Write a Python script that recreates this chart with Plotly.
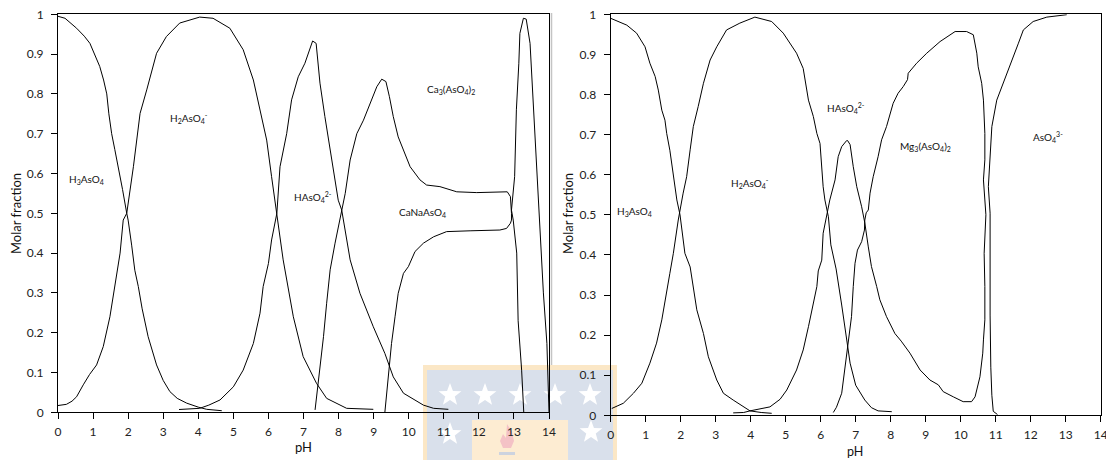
import plotly.graph_objects as go
import math

# ---------------- data: left panel (Ca system) ----------------
h3_l_x = [0, 0.2, 0.53, 0.75, 0.91, 1.05, 1.19, 1.3, 1.39, 1.45, 1.53, 1.62, 1.72, 1.84, 1.96, 2.0, 2.1, 2.19, 2.29, 2.4, 2.57, 2.7, 2.81, 3.0, 3.19, 3.4, 3.67, 4.0, 4.24, 4.67]
h3_l_y = [0.995, 0.99, 0.965, 0.945, 0.927, 0.9, 0.869, 0.835, 0.80, 0.75, 0.70, 0.66, 0.617, 0.56, 0.50, 0.483, 0.42, 0.357, 0.316, 0.26, 0.19, 0.15, 0.119, 0.08, 0.052, 0.035, 0.023, 0.013, 0.0075, 0.004]

h2_l_x = [0, 0.24, 0.4, 0.53, 0.72, 0.9, 1.1, 1.29, 1.48, 1.63, 1.77, 1.86, 1.96, 2.15, 2.34, 2.53, 2.81, 3.09, 3.47, 4.04, 4.42, 4.9, 5.28, 5.57, 5.81, 5.95, 6.09, 6.24, 6.42, 6.71, 6.99, 7.37, 7.66, 8.23, 8.99]
h2_l_y = [0.017, 0.02, 0.028, 0.039, 0.069, 0.095, 0.119, 0.165, 0.24, 0.324, 0.40, 0.483, 0.50, 0.617, 0.751, 0.81, 0.902, 0.944, 0.978, 0.993, 0.99, 0.965, 0.911, 0.835, 0.743, 0.684, 0.592, 0.50, 0.383, 0.24, 0.14, 0.073, 0.035, 0.01, 0.0075]

h1_l_x = [3.45, 4.04, 4.3, 4.62, 5.0, 5.28, 5.57, 5.76, 5.85, 6.0, 6.09, 6.24, 6.33, 6.52, 6.66, 6.85, 7.04, 7.19, 7.26, 7.36, 7.42, 7.47, 7.61, 7.76, 7.9, 7.99, 8.09, 8.33, 8.61, 8.99, 9.32, 9.56, 9.85, 10.42, 10.71, 11.13]
h1_l_y = [0.007, 0.01, 0.018, 0.031, 0.064, 0.106, 0.173, 0.249, 0.316, 0.374, 0.433, 0.50, 0.617, 0.70, 0.785, 0.843, 0.877, 0.918, 0.933, 0.927, 0.868, 0.827, 0.743, 0.659, 0.584, 0.533, 0.508, 0.383, 0.299, 0.215, 0.148, 0.089, 0.048, 0.018, 0.01, 0.0075]

ca3_l_x = [7.33, 7.47, 7.57, 7.66, 7.76, 7.9, 7.99, 8.19, 8.33, 8.52, 8.71, 8.9, 9.09, 9.23, 9.35, 9.45, 9.56, 9.7, 9.85, 10.04, 10.32, 10.51, 10.89, 11.37, 11.94, 12.7, 12.81, 12.9, 12.93, 12.93]
ca3_l_y = [0.006, 0.106, 0.19, 0.274, 0.358, 0.425, 0.466, 0.55, 0.634, 0.70, 0.734, 0.776, 0.818, 0.837, 0.831, 0.793, 0.743, 0.692, 0.659, 0.617, 0.584, 0.571, 0.567, 0.554, 0.552, 0.554, 0.554, 0.542, 0.517, 0.5]

cana_l_x = [9.32, 9.42, 9.51, 9.61, 9.7, 9.85, 9.99, 10.18, 10.42, 10.71, 11.08, 11.75, 12.6, 12.79, 12.9, 12.93, 12.93]
cana_l_y = [0.0, 0.089, 0.173, 0.24, 0.299, 0.349, 0.366, 0.404, 0.425, 0.441, 0.454, 0.456, 0.458, 0.462, 0.475, 0.483, 0.5]

aso4_l_x = [13.28, 13.22, 13.12, 13.08, 12.98, 12.93, 13.02, 13.07, 13.14, 13.17, 13.27, 13.35, 13.46, 13.56, 13.65, 13.75, 13.84, 13.94, 13.98, 14.0]
aso4_l_y = [0.0, 0.106, 0.23, 0.40, 0.483, 0.508, 0.592, 0.76, 0.877, 0.952, 0.99, 0.988, 0.927, 0.76, 0.592, 0.425, 0.30, 0.173, 0.048, 0.0]

# ---------------- data: right panel (Mg system) ----------------
h3_r_x = [0, 0.46, 0.74, 0.98, 1.12, 1.27, 1.36, 1.46, 1.55, 1.6, 1.69, 1.79, 1.89, 1.98, 2.03, 2.12, 2.27, 2.36, 2.46, 2.65, 2.79, 3.03, 3.22, 3.5, 3.79, 3.98, 4.3, 4.6]
h3_r_y = [0.99, 0.973, 0.953, 0.919, 0.878, 0.845, 0.811, 0.761, 0.736, 0.703, 0.661, 0.603, 0.537, 0.5, 0.47, 0.404, 0.37, 0.321, 0.263, 0.204, 0.146, 0.088, 0.055, 0.038, 0.021, 0.011, 0.007, 0.005]

h2_r_x = [0.03, 0.17, 0.36, 0.65, 0.89, 1.12, 1.31, 1.46, 1.55, 1.69, 1.79, 1.93, 2.07, 2.17, 2.27, 2.36, 2.5, 2.65, 2.84, 3.03, 3.31, 3.69, 4.12, 4.6, 4.93, 5.31, 5.5, 5.55, 5.65, 5.79, 5.89, 5.98, 6.03, 6.07, 6.12, 6.22, 6.29, 6.44, 6.6, 6.72, 6.84, 7.0, 7.26, 7.45, 7.64, 8.03]
h2_r_y = [0.017, 0.023, 0.03, 0.055, 0.08, 0.13, 0.18, 0.238, 0.288, 0.354, 0.404, 0.487, 0.554, 0.595, 0.662, 0.72, 0.77, 0.828, 0.886, 0.919, 0.961, 0.978, 0.993, 0.982, 0.953, 0.903, 0.865, 0.836, 0.786, 0.745, 0.703, 0.678, 0.62, 0.57, 0.537, 0.495, 0.425, 0.365, 0.275, 0.204, 0.13, 0.075, 0.038, 0.019, 0.011, 0.009]

h1_r_x = [3.5, 3.8, 3.98, 4.3, 4.55, 4.84, 5.03, 5.31, 5.5, 5.65, 5.79, 5.89, 5.93, 6.03, 6.07, 6.17, 6.26, 6.41, 6.5, 6.6, 6.74, 6.77, 6.84, 6.93, 7.03, 7.17, 7.26, 7.36, 7.45, 7.6, 7.69, 7.88, 8.12, 8.3, 8.55, 8.84, 9.12, 9.36, 9.5, 9.79, 10.07, 10.31, 10.41, 10.55, 10.63, 10.65, 10.69, 10.69, 10.67, 10.72]
h1_r_y = [0.006, 0.007, 0.011, 0.016, 0.021, 0.04, 0.063, 0.113, 0.163, 0.221, 0.279, 0.321, 0.36, 0.387, 0.454, 0.495, 0.537, 0.587, 0.645, 0.67, 0.685, 0.685, 0.675, 0.62, 0.57, 0.52, 0.48, 0.42, 0.371, 0.321, 0.288, 0.246, 0.204, 0.185, 0.155, 0.113, 0.088, 0.076, 0.059, 0.046, 0.034, 0.034, 0.046, 0.096, 0.155, 0.188, 0.238, 0.321, 0.404, 0.5]

mg3_r_x = [6.36, 6.45, 6.6, 6.69, 6.79, 6.88, 6.93, 6.98, 7.05, 7.17, 7.25, 7.26, 7.3, 7.36, 7.41, 7.5, 7.64, 7.74, 7.88, 7.98, 8.07, 8.21, 8.36, 8.48, 8.5, 8.74, 9.03, 9.41, 9.84, 10.17, 10.36, 10.46, 10.5, 10.6, 10.65, 10.69, 10.69, 10.65, 10.69, 10.72]
mg3_r_y = [0.007, 0.02, 0.055, 0.113, 0.18, 0.246, 0.321, 0.379, 0.412, 0.433, 0.462, 0.487, 0.505, 0.512, 0.554, 0.595, 0.645, 0.687, 0.72, 0.753, 0.778, 0.803, 0.82, 0.837, 0.853, 0.878, 0.903, 0.932, 0.957, 0.957, 0.949, 0.903, 0.869, 0.828, 0.786, 0.703, 0.637, 0.587, 0.537, 0.5]

aso4_r_x = [11.05, 10.93, 10.89, 10.86, 10.84, 10.84, 10.84, 10.79, 10.84, 10.89, 11.03, 11.22, 11.41, 11.65, 11.79, 12.07, 12.46, 13.03]
aso4_r_y = [0.002, 0.01, 0.05, 0.12, 0.25, 0.4, 0.504, 0.57, 0.637, 0.72, 0.786, 0.828, 0.87, 0.928, 0.961, 0.982, 0.993, 0.999]

# label text and positions (pH, fraction)
labels_left = [
    ("H<sub>3</sub>AsO<sub>4</sub>", 0.8, 0.584),
    ("H<sub>2</sub>AsO<sub>4</sub><sup>-</sup>", 3.74, 0.74),
    ("HAsO<sub>4</sub><sup>2-</sup>", 7.26, 0.541),
    ("Ca<sub>3</sub>(AsO<sub>4</sub>)<sub>2</sub>", 11.2, 0.81),
    ("CaNaAsO<sub>4</sub>", 10.38, 0.503),
]
labels_right = [
    ("H<sub>3</sub>AsO<sub>4</sub>", 0.67, 0.507),
    ("H<sub>2</sub>AsO<sub>4</sub><sup>-</sup>", 3.98, 0.579),
    ("HAsO<sub>4</sub><sup>2-</sup>", 6.72, 0.766),
    ("Mg<sub>3</sub>(AsO<sub>4</sub>)<sub>2</sub>", 8.98, 0.67),
    ("AsO<sub>4</sub><sup>3-</sup>", 12.5, 0.695),
]

y_ticks = [0, 0.1, 0.2, 0.3, 0.4, 0.5, 0.6, 0.7, 0.8, 0.9, 1]
x_ticks = list(range(0, 15))

# ---------------- figure ----------------
W, H = 1106, 460
FONT = "Lato, Open Sans, sans-serif"

def px(x):
    return x / W

def py(y):
    return 1 - y / H

fig = go.Figure()
line = dict(color="black", width=1)
for xs, ys in [(h3_l_x, h3_l_y), (h2_l_x, h2_l_y), (h1_l_x, h1_l_y), (ca3_l_x, ca3_l_y), (cana_l_x, cana_l_y), (aso4_l_x, aso4_l_y)]:
    fig.add_trace(go.Scatter(x=xs, y=ys, mode="lines", line=line, xaxis="x", yaxis="y", showlegend=False, hoverinfo="skip"))
for xs, ys in [(h3_r_x, h3_r_y), (h2_r_x, h2_r_y), (h1_r_x, h1_r_y), (mg3_r_x, mg3_r_y), (aso4_r_x, aso4_r_y)]:
    fig.add_trace(go.Scatter(x=xs, y=ys, mode="lines", line=line, xaxis="x2", yaxis="y2", showlegend=False, hoverinfo="skip"))

ax_common = dict(showgrid=False, zeroline=False, showline=True, linecolor="black", linewidth=1,
                 mirror=True, ticks="outside", ticklen=6, tickwidth=1, tickcolor="black",
                 tickfont=dict(family=FONT, size=12, color="#222"), automargin=False,
                 ticklabeloverflow="allow")
x_extra = dict(ticklabelstandoff=2)
y_extra = dict(ticklabelstandoff=5)

fig.update_layout(
    width=W, height=H,
    margin=dict(l=0, r=0, t=0, b=0),
    paper_bgcolor="white", plot_bgcolor="rgba(0,0,0,0)",
    xaxis=dict(domain=[px(58), px(549)], range=[0, 14], tickvals=x_ticks, anchor="y", **ax_common, **x_extra),
    yaxis=dict(domain=[py(412.3), py(14.3)], range=[0, 1], tickvals=y_ticks, anchor="x", **ax_common, **y_extra),
    xaxis2=dict(domain=[px(610.7), px(1100.7)], range=[0, 14], tickvals=x_ticks, anchor="y2", **ax_common, **x_extra),
    yaxis2=dict(domain=[py(415.3), py(14.3)], range=[0, 1], tickvals=y_ticks, anchor="x2", **ax_common, **y_extra),
)

ann = []
lab_font = dict(family=FONT, size=10, color="#111")
for t, x, y in labels_left:
    ann.append(dict(text=t, x=x, y=y, xref="x", yref="y", xanchor="center", yanchor="middle", showarrow=False, font=lab_font))
for t, x, y in labels_right:
    ann.append(dict(text=t, x=x, y=y, xref="x2", yref="y2", xanchor="center", yanchor="middle", showarrow=False, font=lab_font))
title_font = dict(family=FONT, size=13, color="#111")
ann += [
    dict(text="Molar fraction", x=px(16), y=py(214), xref="paper", yref="paper", textangle=-90, xanchor="center", yanchor="middle", showarrow=False, font=title_font),
    dict(text="Molar fraction", x=px(568), y=py(214), xref="paper", yref="paper", textangle=-90, xanchor="center", yanchor="middle", showarrow=False, font=title_font),
    dict(text="pH", x=px(303), y=py(447), xref="paper", yref="paper", xanchor="center", yanchor="middle", showarrow=False, font=title_font),
    dict(text="pH", x=px(855), y=py(451.5), xref="paper", yref="paper", xanchor="center", yanchor="middle", showarrow=False, font=dict(family=FONT, size=12.5, color="#111")),
]
fig.update_layout(annotations=ann)

# ---------------- decorative watermark & image seam ----------------
shapes = []
def rect(x0, y0, x1, y1, color):
    shapes.append(dict(type="rect", xref="paper", yref="paper", x0=px(x0), x1=px(x1), y0=py(y1), y1=py(y0),
                       fillcolor=color, line=dict(width=0), layer="below"))
rect(423, 365, 617, 460, "#fbe7c6")
rect(427, 370, 613, 460, "#d9e0eb")
rect(472, 420, 568, 460, "#fdecd2")

def star(cx, cy, R=12, r=5):
    pts = []
    for i in range(10):
        ang = -math.pi / 2 + i * math.pi / 5
        rad = R if i % 2 == 0 else r
        pts.append((cx + rad * math.cos(ang), cy + rad * math.sin(ang)))
    d = "M " + " L ".join(f"{px(a):.5f},{py(b):.5f}" for a, b in pts) + " Z"
    shapes.append(dict(type="path", path=d, xref="paper", yref="paper", fillcolor="white", line=dict(width=0), layer="below"))

for cx in [450, 485, 520, 555, 590]:
    star(cx, 395)
star(450, 434)
star(591, 432)

# flame-like emblem
flame = [(507, 424), (512, 432), (514, 441), (511, 448), (503, 448), (500, 441), (503, 434), (506, 438)]
shapes.append(dict(type="path", path="M " + " L ".join(f"{px(a):.5f},{py(b):.5f}" for a, b in flame) + " Z",
                   xref="paper", yref="paper", fillcolor="#f4c2c6", line=dict(width=0), layer="below"))
rect(499, 452, 515, 455, "#cdd3df")

shapes.append(dict(type="line", xref="paper", yref="paper", x0=px(551.5), x1=px(551.5), y0=py(365), y1=py(13),
                   line=dict(color="#c4c4c4", width=1.5), layer="below"))
fig.update_layout(shapes=shapes)

fig.write_html("out.html", config={"displayModeBar": False},
               post_script="document.body.style.margin='0px';")
